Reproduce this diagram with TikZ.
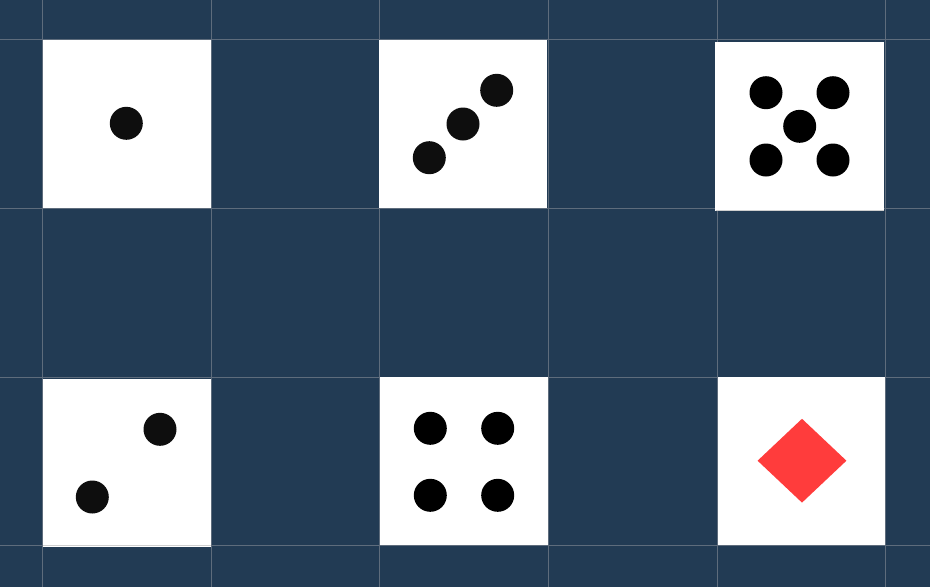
\documentclass[tikz,border=0pt]{standalone}
\usetikzlibrary{shapes.geometric}
\definecolor{bgnavy}{HTML}{223B54}
\definecolor{gridgray}{HTML}{5E6C7C}
\definecolor{pipdark}{HTML}{0E0E0E}
\definecolor{diamondred}{HTML}{FF3C3C}
\definecolor{edgegray}{HTML}{CFCFCF}
\tikzset{
  face/.style={fill=white, draw=none, minimum width=168pt, minimum height=168pt, inner sep=0pt, outer sep=0pt},
  pip/.style={circle, fill=pipdark, draw=none, minimum size=33pt, inner sep=0pt},
  pipblack/.style={circle, fill=black, draw=none, minimum size=33pt, inner sep=0pt},
  gridline/.style={draw=gridgray, line width=0.8pt},
  redgem/.style={diamond, fill=diamondred, draw=none, minimum width=89pt, minimum height=84pt, inner sep=0pt}
}
\begin{document}
\begin{tikzpicture}[x=1pt,y=-1pt]
\useasboundingbox (0,0) rectangle (930,587);
\fill[bgnavy] (0,0) rectangle (930,587);
% grid
\foreach \gx in {42.3,211.3,379.5,548,717.3,885.3}
  \draw[gridline] (\gx,0) -- (\gx,587);
\foreach \gy in {39.3,208.3,377,545.5}
  \draw[gridline] (0,\gy) -- (930,\gy);
% die 1
\node[face] (d1) at (126.6,123.6) {};
\node[pip] (d1a) at (126.3,123.3) {};
% die 3
\node[face] (d3) at (463.3,123.8) {};
\node[pip] (d3a) at (496.7,90.3) {};
\node[pip] (d3b) at (463,124) {};
\node[pip] (d3c) at (429.3,157.7) {};
% die 5
\node[face, minimum width=169pt, minimum height=168.5pt] (d5) at (799.5,126.3) {};
\draw[edgegray, line width=0.7pt] (715.5,210.3) -- (883.5,210.3);
\node[pipblack] (d5a) at (766,92.7) {};
\node[pipblack] (d5b) at (833,92.7) {};
\node[pipblack] (d5c) at (799.7,126.3) {};
\node[pipblack] (d5d) at (766,160) {};
\node[pipblack] (d5e) at (833,160) {};
% die 2
\node[face] (d2) at (126.6,463) {};
\draw[edgegray, line width=0.7pt] (42.5,545.3) -- (210.8,545.3);
\node[pip] (d2a) at (160,429.3) {};
\node[pip] (d2b) at (92.3,497) {};
% die 4
\node[face] (d4) at (463.8,461.3) {};
\node[pipblack] (d4a) at (430.3,428.3) {};
\node[pipblack] (d4b) at (497.7,428.3) {};
\node[pipblack] (d4c) at (430.3,495.3) {};
\node[pipblack] (d4d) at (497.7,495.3) {};
% die 6
\node[face, minimum width=167.3pt] (d6) at (801.6,461.2) {};
\node[redgem] (d6a) at (802,460.7) {};
\end{tikzpicture}
\end{document}
